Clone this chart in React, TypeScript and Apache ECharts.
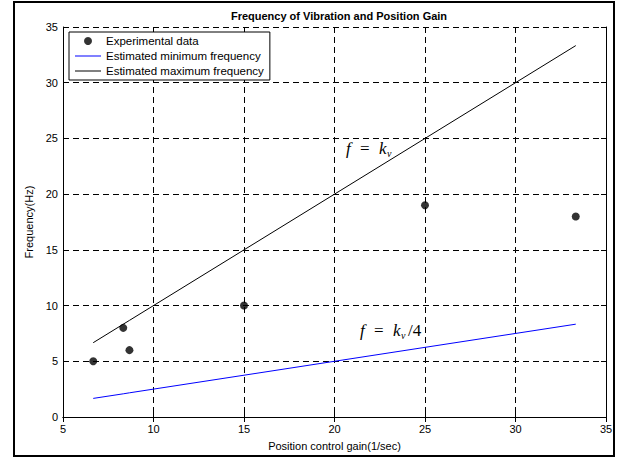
import React, { useEffect, useRef } from "react";
import * as echarts from "echarts";

const chartTitle = "Frequency of Vibration and Position Gain";
const xAxisName = "Position control gain(1/sec)";
const yAxisName = "Frequency(Hz)";
const seriesNames = ["Experimental data", "Estimated minimum frequency", "Estimated maximum frequency"];

const gainValues = [6.67, 8.33, 8.67, 15, 25, 33.33];
const measuredFreq = [5, 8, 6, 10, 19, 18];
const minFreq = [1.67, 2.08, 2.17, 3.75, 6.25, 8.33];
const maxFreq = [6.67, 8.33, 8.67, 15, 25, 33.33];

const FONT = "Liberation Sans, Arial, sans-serif";
const SERIF = "Liberation Serif, Times New Roman, serif";
const LINE_ICON = "path://M0,0L26,0L26,1L0,1Z";

export default function App() {
  const ref = useRef<HTMLDivElement>(null);
  useEffect(() => {
    document.body.style.margin = "0";
    const chart = echarts.init(ref.current!, null, { renderer: "svg" });
    const pairs = (ys: number[]) => gainValues.map((x, i) => [x, ys[i]]);
    const axisCommon = {
      type: "value" as const,
      axisLine: { show: true, lineStyle: { color: "#000", width: 1 } },
      axisTick: { show: true, inside: true, length: 5, lineStyle: { color: "#000" } },
    };
    const eq = (x: number, y: number, suffix: boolean) => {
      const items: any[] = [
        { type: "text", x, y, style: { text: "f", font: "italic 17px " + SERIF, fill: "#000" } },
        { type: "text", x: x + 14, y, style: { text: "=", font: "17px " + SERIF, fill: "#000" } },
        { type: "text", x: x + 33, y, style: { text: "k", font: "italic 17px " + SERIF, fill: "#000" } },
        { type: "text", x: x + 41, y: y + 8, style: { text: "v", font: "italic 10px " + SERIF, fill: "#000" } },
      ];
      if (suffix) {
        items.push({ type: "text", x: x + 48, y, style: { text: "/4", font: "17px " + SERIF, fill: "#000" } });
      }
      return items;
    };
    chart.setOption({
      animation: false,
      backgroundColor: "#fff",
      title: {
        text: chartTitle,
        left: 334,
        top: 5,
        textAlign: "center",
        textStyle: { fontSize: 11, fontWeight: "bold", color: "#000", fontFamily: FONT },
      },
      grid: { left: 63, right: 16, top: 27, bottom: 42, containLabel: false },
      legend: {
        orient: "vertical",
        left: 69,
        top: 32,
        data: [
          { name: seriesNames[0] },
          { name: seriesNames[1], icon: LINE_ICON },
          { name: seriesNames[2], icon: LINE_ICON },
        ],
        itemWidth: 26,
        itemHeight: 8,
        itemGap: 3,
        padding: [3, 6, 3, 6],
        backgroundColor: "#fff",
        borderColor: "#000",
        borderWidth: 1,
        textStyle: { fontSize: 11.5, color: "#000", fontFamily: FONT },
      },
      xAxis: [
        {
          ...axisCommon,
          position: "bottom",
          min: 5,
          max: 35,
          interval: 5,
          axisLabel: { color: "#000", fontSize: 11, fontFamily: FONT, margin: 6 },
          splitLine: { show: true, lineStyle: { color: "#000", type: [6, 4], width: 1 } },
          name: xAxisName,
          nameLocation: "middle",
          nameGap: 23,
          nameTextStyle: { color: "#000", fontSize: 11, fontFamily: FONT },
        },
        {
          ...axisCommon,
          position: "top",
          min: 5,
          max: 35,
          interval: 5,
          axisLabel: { show: false },
          splitLine: { show: false },
        },
      ],
      yAxis: [
        {
          ...axisCommon,
          position: "left",
          min: 0,
          max: 35,
          interval: 5,
          axisLabel: { color: "#000", fontSize: 11, fontFamily: FONT, margin: 5 },
          splitLine: { show: true, lineStyle: { color: "#000", type: [6, 4], width: 1 } },
          name: yAxisName,
          nameLocation: "middle",
          nameGap: 21,
          nameTextStyle: { color: "#000", fontSize: 11, fontFamily: FONT },
        },
        {
          ...axisCommon,
          position: "right",
          min: 0,
          max: 35,
          interval: 5,
          axisLabel: { show: false },
          splitLine: { show: false },
        },
      ],
      series: [
        {
          name: seriesNames[0],
          type: "scatter",
          data: pairs(measuredFreq),
          symbol: "circle",
          symbolSize: 8,
          itemStyle: { color: "#000" },
          z: 5,
        },
        {
          name: seriesNames[1],
          type: "line",
          data: pairs(minFreq),
          symbol: "none",
          lineStyle: { color: "#0000ff", width: 1 },
          itemStyle: { color: "#0000ff" },
        },
        {
          name: seriesNames[2],
          type: "line",
          data: pairs(maxFreq),
          symbol: "none",
          lineStyle: { color: "#000", width: 1 },
          itemStyle: { color: "#000" },
        },
      ],
      graphic: [
        {
          type: "rect",
          shape: { x: 14, y: 2, width: 600, height: 454 },
          style: { fill: "none", stroke: "#000", lineWidth: 2 },
          silent: true,
        },
        ...eq(346, 140, false),
        ...eq(360, 322, true),
      ],
    });
    return () => chart.dispose();
  }, []);
  return <div ref={ref} style={{ width: 622, height: 459 }} />;
}
